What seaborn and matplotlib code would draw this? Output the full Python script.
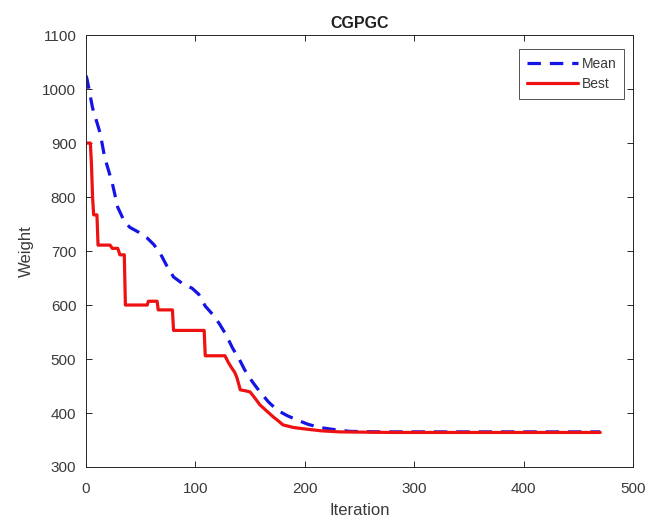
import matplotlib
matplotlib.use("Agg")
import matplotlib.pyplot as plt
import seaborn as sns
import pandas as pd

# Convergence history: vertices of the population mean and best weight per iteration
mean_iter = [0, 1, 6, 13, 17, 24, 29, 35, 40, 48, 56, 62, 68, 74, 80, 88, 97, 103,
             109, 116, 122, 128, 134, 140, 145, 152, 159, 167, 175, 184, 193, 203,
             214, 228, 241, 269, 470]
mean_weight = [1025, 1018, 965, 918, 874, 826, 781, 755, 744, 735, 724, 712, 695, 672,
               652, 640, 631, 620, 598, 582, 565, 545, 520, 500, 480, 458, 439, 420,
               405, 395, 387, 379, 373, 369, 366, 365, 365]

best_iter = [0, 4, 5, 6, 7, 10, 11, 22, 24, 29, 31, 35, 36, 56, 57, 65, 66, 79, 80,
             108, 109, 127, 130, 133, 136, 138, 141, 146, 150, 155, 159, 165, 171,
             176, 180, 190, 202, 215, 232, 278, 470]
best_weight = [900, 900, 860, 800, 767, 767, 711, 711, 705, 705, 693, 693, 600, 600,
               607, 607, 591, 591, 553, 553, 506, 506, 494, 484, 475, 465, 443, 441,
               439, 426, 415, 404, 393, 385, 378, 373, 370, 367, 365, 364, 364]

x_ticks = [0, 100, 200, 300, 400, 500]
y_ticks = [300, 400, 500, 600, 700, 800, 900, 1000, 1100]

sns.set_theme(style="white")
plt.rcParams["font.family"] = ["Liberation Sans", "DejaVu Sans"]

fig = plt.figure(figsize=(6.54, 5.24), dpi=100)
ax = fig.add_axes([0.1315, 0.1088, 0.8365, 0.8242])

mean_df = pd.DataFrame({"Iteration": mean_iter, "Weight": mean_weight})
best_df = pd.DataFrame({"Iteration": best_iter, "Weight": best_weight})

sns.lineplot(data=mean_df, x="Iteration", y="Weight", ax=ax, sort=False,
             estimator=None, color="#1414e6", linewidth=2.3, label="Mean")
ax.lines[-1].set_dashes([4.2, 2.8])
sns.lineplot(data=best_df, x="Iteration", y="Weight", ax=ax, sort=False,
             estimator=None, color="#ee1111", linewidth=2.3, label="Best")

ax.set_xlim(0, 500)
ax.set_ylim(300, 1100)
ax.set_xticks(x_ticks)
ax.set_yticks(y_ticks)

grey = "#3a3a3a"
for s in ax.spines.values():
    s.set_color("#262626")
    s.set_linewidth(0.7)
ax.tick_params(direction="in", length=4, width=0.7, color="#262626",
               labelsize=11, labelcolor=grey, top=True, right=True,
               bottom=True, left=True)
ax.tick_params(axis="x", pad=11)
ax.tick_params(axis="y", pad=7)

ax.set_xlabel("Iteration", fontsize=12, color=grey, labelpad=5)
ax.set_ylabel("Weight", fontsize=12, color=grey, labelpad=6)
ax.set_title("CGPGC", fontsize=11.5, fontweight="bold", color="#202020", pad=5)

leg = ax.legend(loc="upper right", bbox_to_anchor=(0.9835, 0.9676), fontsize=10,
                frameon=True, fancybox=False, edgecolor="#262626",
                handlelength=3.7, handletextpad=0.25, borderpad=0.55,
                borderaxespad=0, labelspacing=0.45)
leg.get_frame().set_linewidth(0.7)
for t in leg.get_texts():
    t.set_color(grey)

fig.savefig("out.png", dpi=100)
